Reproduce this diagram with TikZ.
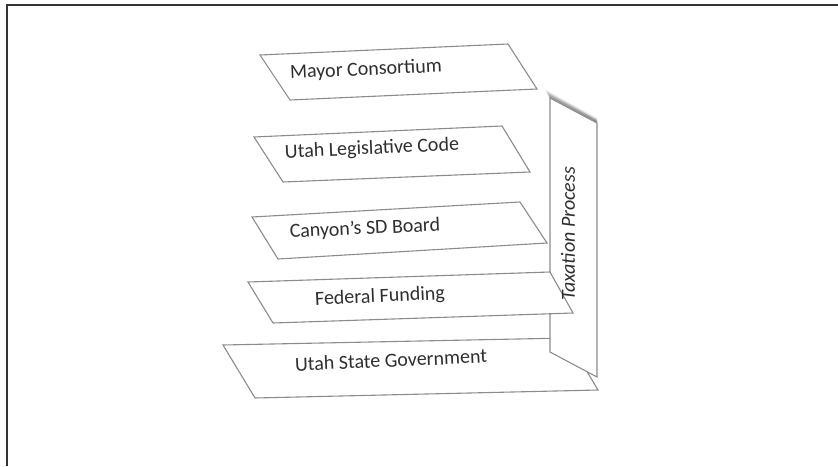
\documentclass[tikz,border=0pt]{standalone}
\usepackage{fontspec}
\setmainfont{Carlito}
\usetikzlibrary{calc}
\definecolor{edgegray}{HTML}{8C8C8C}
\definecolor{inkgray}{HTML}{2E2E2E}
\begin{document}
\begin{tikzpicture}[x=1pt,y=-1pt,
  plate/.style={draw=edgegray, fill=white, line width=1.1pt, line join=miter},
  platelabel/.style={font=\fontsize{20}{24}\selectfont, text=inkgray, rotate=2.5, inner sep=0pt},
  panellabel/.style={font=\fontsize{20}{24}\selectfont\itshape, text=inkgray, rotate=90, inner sep=0pt},
  frameline/.style={line width=2.2pt, draw=black!80}
]
\useasboundingbox (0,0) rectangle (838,466);
\fill[white] (0,0) rectangle (838,466);

% outer frame (top and left edges)
\draw[frameline] (7,466) -- (7,5) -- (838,5);

% stacked plates
\draw[plate] (260,55) -- (508,44) -- (537,89) -- (290,100) -- cycle;
\node[platelabel] (mayor) at (366,70) {Mayor Consortium};

\draw[plate] (254,137) -- (502,126) -- (530,172) -- (283,182) -- cycle;
\node[platelabel] (code) at (372,149) {Utah Legislative Code};

\draw[plate] (252,217) -- (520,202) -- (547,243) -- (278,259) -- cycle;
\node[platelabel] (board) at (365,229) {Canyon’s SD Board};

\draw[plate] (223,345) -- (567,338) -- (598,390) -- (255,398) -- cycle;
\node[platelabel] (state) at (391,360) {Utah State Government};

% vertical panel with soft shadow along its top edge
\coordinate (pTL) at (550,98);
\coordinate (pTR) at (597,123);
\coordinate (pBR) at (597,377);
\coordinate (pBL) at (550,352);
\foreach \i [evaluate=\i as \op using 0.24*(1-\i/10)] in {1,...,9}
  \draw[line width=1.2pt, draw=black, draw opacity=\op]
    ($(pTL)+(-0.5*\i,-0.9*\i)$) -- ($(pTR)+(0,-0.5*\i)$);
\draw[plate] (pTL) -- (pTR) -- (pBR) -- (pBL) -- cycle;

% plate in front of the panel
\draw[plate] (248,282) -- (550,272) -- (573,313) -- (273,323) -- cycle;
\node[platelabel] (funding) at (380,297) {Federal Funding};

\node[panellabel] (tax) at (568,234) {Taxation Process};
\end{tikzpicture}
\end{document}
